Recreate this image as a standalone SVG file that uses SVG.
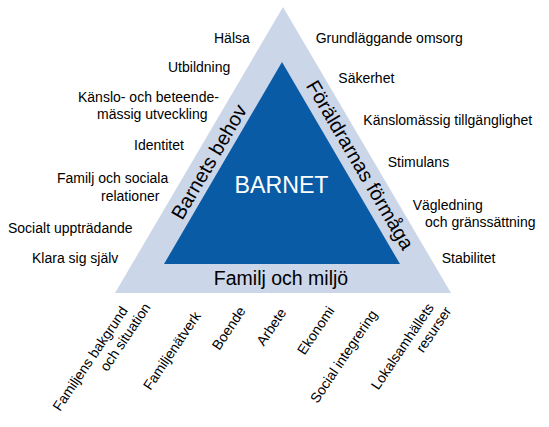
<svg xmlns="http://www.w3.org/2000/svg" width="549" height="427" viewBox="0 0 549 427">
<style>
text{font-family:"Liberation Sans",Arial,sans-serif;fill:#000}
.l{font-size:14px}
.b{font-size:20px}
.e{text-anchor:end}
</style>
<rect width="549" height="427" fill="#fff"/>
<g id="outer-triangle"><polygon points="283,7 451,293 115,293" fill="#CCD6E9"/></g>
<g id="inner-triangle"><polygon points="282,62 400,264 164,264" fill="#0A5BA6"/>
<text x="281.5" y="193.3" font-size="23.2" text-anchor="middle" style="fill:#fff">BARNET</text></g>
<g id="side-labels">
<text class="b" text-anchor="middle" transform="translate(215,165.3) rotate(-59.6)">Barnets behov</text>
<text class="b" text-anchor="middle" transform="translate(354.2,168.4) rotate(59.6)">Föräldrarnas förmåga</text>
<text x="281" y="285" font-size="19.5" text-anchor="middle">Familj och miljö</text>
</g>
<g id="barnets-behov">
<text class="l" x="214" y="43">Hälsa</text>
<text class="l" x="168" y="72">Utbildning</text>
<text class="l" x="78" y="102">Känslo- och beteende-</text>
<text class="l" x="97" y="119">mässig utveckling</text>
<text class="l" x="134" y="150">Identitet</text>
<text class="l" x="57" y="183">Familj och sociala</text>
<text class="l" x="101" y="200.5">relationer</text>
<text class="l" x="8" y="233">Socialt uppträdande</text>
<text class="l" x="32" y="262.5">Klara sig själv</text>
</g>
<g id="foraldrarnas-formaga">
<text class="l" x="315.7" y="43.3">Grundläggande omsorg</text>
<text class="l" x="338.3" y="83.3">Säkerhet</text>
<text class="l" x="363.3" y="125">Känslomässig tillgänglighet</text>
<text class="l" x="387.7" y="166.7">Stimulans</text>
<text class="l" x="412.7" y="210">Vägledning</text>
<text class="l" x="425" y="227.3">och gränssättning</text>
<text class="l" x="441.7" y="262.7">Stabilitet</text>
</g>
<g id="familj-och-miljo">
<text class="l e" transform="translate(128.3,310.6) rotate(-56)">Familjens bakgrund</text>
<text class="l e" transform="translate(151.2,307.2) rotate(-56)">och situation</text>
<text class="l e" transform="translate(201.3,315.6) rotate(-56)">Familjenätverk</text>
<text class="l e" transform="translate(246.2,310.9) rotate(-56)">Boende</text>
<text class="l e" transform="translate(286.9,312.5) rotate(-56)">Arbete</text>
<text class="l e" transform="translate(335,310.6) rotate(-56)">Ekonomi</text>
<text class="l e" transform="translate(377.9,314.2) rotate(-56)">Social integrering</text>
<text class="l e" transform="translate(434.5,307.5) rotate(-56)">Lokalsamhällets</text>
<text class="l e" transform="translate(451.9,310.9) rotate(-56)">resurser</text>
</g>
</svg>
